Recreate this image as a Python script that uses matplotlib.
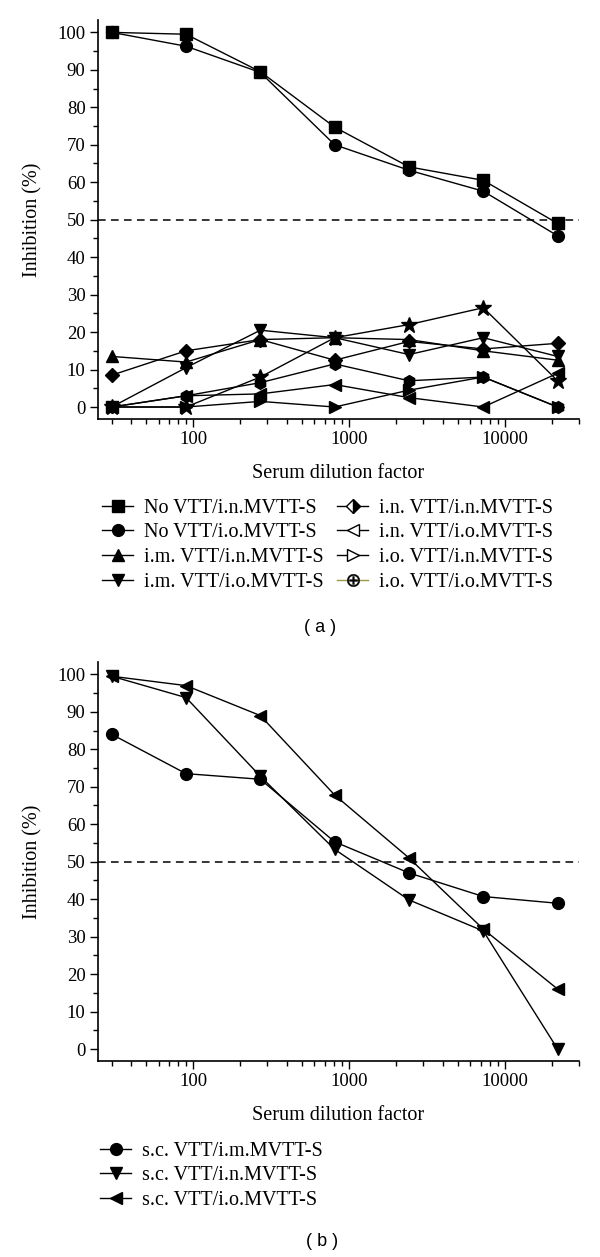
import matplotlib
matplotlib.use('Agg')
import matplotlib.pyplot as plt
from matplotlib.lines import Line2D
from matplotlib.ticker import FixedLocator, LogLocator, NullFormatter, MultipleLocator, FixedFormatter

plt.rcParams['font.family'] = ['Liberation Serif', 'DejaVu Serif']

dilution = [30, 90, 270, 810, 2430, 7290, 21870]

# Panel (a)
novtt_in = [100, 99.5, 89.5, 74.7, 64.1, 60.5, 49.0]
novtt_io = [100, 96.3, 89.3, 70.0, 63.2, 57.6, 45.7]
im_in = [13.5, 12, 18, 18.5, 18, 15, 12.5]
im_io = [0, 10.5, 20.5, 18.5, 14, 18.5, 13.5]
in_in = [8.5, 15, 18, 12.5, 17.5, 15.5, 17]
in_io = [0, 3, 3.5, 6, 2.5, 0, 9]
io_in = [0, 0, 1.5, 0, 4.5, 8, 0]
io_io = [0, 3, 6.5, 11.5, 7, 8, 0]
extra_star = [0, 0, 8, 18.5, 22, 26.5, 7]

# Panel (b)
sc_im = [84, 73.5, 72, 55.3, 47, 40.7, 38.9]
sc_in = [99.5, 93.8, 72.8, 53.3, 39.8, 31.5, 0]
sc_io = [99.5, 97, 89, 67.8, 51, 32, 16]

labels_a = ['No VTT/i.n.MVTT-S', 'No VTT/i.o.MVTT-S', 'i.m. VTT/i.n.MVTT-S',
            'i.m. VTT/i.o.MVTT-S', 'i.n. VTT/i.n.MVTT-S', 'i.n. VTT/i.o.MVTT-S',
            'i.o. VTT/i.n.MVTT-S', 'i.o. VTT/i.o.MVTT-S']
labels_b = ['s.c. VTT/i.m.MVTT-S', 's.c. VTT/i.n.MVTT-S', 's.c. VTT/i.o.MVTT-S']
xticks = [100, 1000, 10000]
xticklabels = ['100', '1000', '10000']
threshold = 50

W, H = 600, 1257
fig = plt.figure(figsize=(W / 100, H / 100), dpi=100)

def px_axes(left, top, right, bottom):
    return fig.add_axes([left / W, 1 - bottom / H, (right - left) / W, (bottom - top) / H])

FS = 13.5
LFS = 14.5
lw = 1.0
ms = 8.5

def style(ax):
    ax.set_xscale('log')
    ax.set_xlim(24.5, 30000)
    ax.set_ylim(-3.2, 103.3)
    for s in ['top', 'right']:
        ax.spines[s].set_visible(False)
    for s in ['left', 'bottom']:
        ax.spines[s].set_linewidth(1.2)
    ax.xaxis.set_major_locator(FixedLocator(xticks))
    ax.xaxis.set_major_formatter(FixedFormatter(xticklabels))
    ax.xaxis.set_minor_locator(LogLocator(base=10, subs=range(2, 10), numticks=20))
    ax.xaxis.set_minor_formatter(NullFormatter())
    ax.yaxis.set_major_locator(MultipleLocator(10))
    ax.yaxis.set_minor_locator(MultipleLocator(5))
    ax.tick_params(which='major', direction='out', length=6, width=1, labelsize=FS, pad=3)
    ax.tick_params(which='minor', direction='out', length=3.5, width=1)
    ax.axhline(threshold, color='black', lw=1.1, ls=(0, (5, 3.5)))
    ax.set_xlabel('Serum dilution factor', fontsize=LFS)
    ax.set_ylabel('Inhibition (%)', fontsize=LFS)
    ax.xaxis.set_label_coords(0.5, -0.113)
    ax.yaxis.set_label_coords(-0.115, 0.5)

# ---------- Panel (a)
ax1 = px_axes(98, 20, 579, 419)
style(ax1)
kw = dict(color='black', lw=lw, ms=ms, clip_on=False)
ax1.plot(dilution, novtt_in, marker='s', **kw)
ax1.plot(dilution, novtt_io, marker='o', **kw)
ax1.plot(dilution, im_in, marker='^', **kw)
ax1.plot(dilution, im_io, marker='v', **kw)
ax1.plot(dilution, in_in, marker='D', ms=7, color='black', lw=lw, clip_on=False)
ax1.plot(dilution, in_io, marker='<', **kw)
ax1.plot(dilution, io_in, marker='>', **kw)
ax1.plot(dilution, io_io, marker='h', **kw)
ax1.plot(dilution, extra_star, marker='*', ms=12, color='black', lw=lw, clip_on=False)

hkw = dict(color='black', lw=lw, ms=ms)
handles_a = [
    Line2D([], [], marker='s', **hkw),
    Line2D([], [], marker='o', **hkw),
    Line2D([], [], marker='^', **hkw),
    Line2D([], [], marker='v', **hkw),
    Line2D([], [], marker='D', ms=7, fillstyle='right', markerfacecoloralt='white',
           markerfacecolor='black', markeredgecolor='black', color='black', lw=lw),
    Line2D([], [], marker='<', markerfacecolor='white', markeredgecolor='black', **hkw),
    Line2D([], [], marker='>', markerfacecolor='white', markeredgecolor='black', **hkw),
    Line2D([], [], marker=r'$\oplus$', color='#9a9a48', lw=lw, ms=9,
           markerfacecolor='black', markeredgecolor='black', markeredgewidth=0.3),
]
lkw = dict(frameon=False, fontsize=LFS, handlelength=1.55, handletextpad=0.55,
           labelspacing=0.28, borderpad=0, borderaxespad=0, loc='upper left')
leg1 = fig.legend(handles_a[:4], labels_a[:4], bbox_to_anchor=(102 / W, 1 - 498.5 / H), **lkw)
leg2 = fig.legend(handles_a[4:], labels_a[4:], bbox_to_anchor=(337 / W, 1 - 498.5 / H), **lkw)

fig.text(320 / W, 1 - 627 / H, '( a )', fontsize=13, family='Liberation Sans',
         ha='center', va='center')

# ---------- Panel (b)
ax2 = px_axes(98, 662, 579, 1061)
style(ax2)
ax2.plot(dilution, sc_im, marker='o', **kw)
ax2.plot(dilution, sc_in, marker='v', **kw)
ax2.plot(dilution, sc_io, marker='<', **kw)

handles_b = [Line2D([], [], marker='o', **hkw),
             Line2D([], [], marker='v', **hkw),
             Line2D([], [], marker='<', **hkw)]
leg3 = fig.legend(handles_b, labels_b, bbox_to_anchor=(100 / W, 1 - 1141.5 / H), **lkw)

fig.text(322 / W, 1 - 1242 / H, '( b )', fontsize=13, family='Liberation Sans',
         ha='center', va='center')

fig.savefig('out.png', dpi=100)
